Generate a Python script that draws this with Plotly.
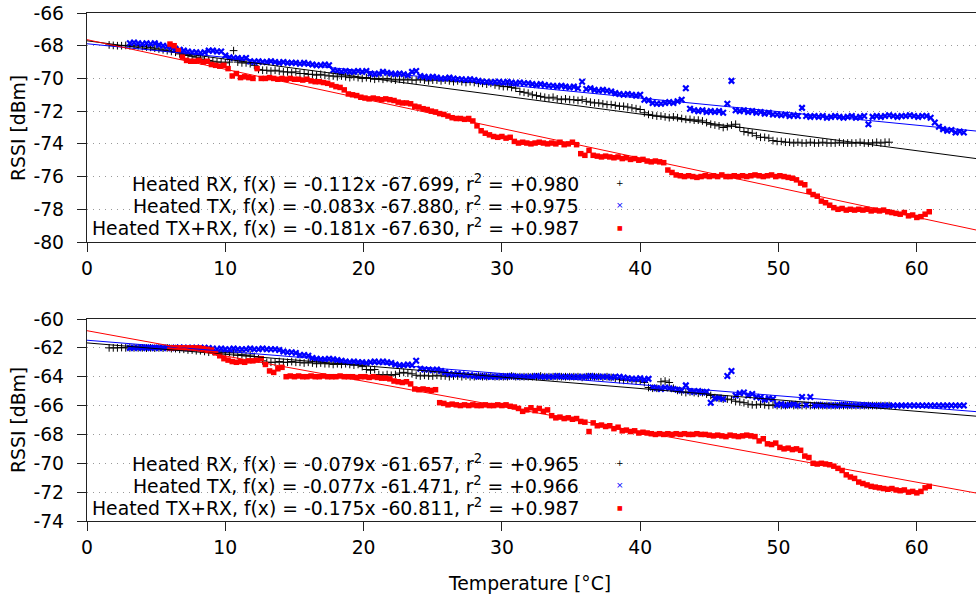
import numpy as np
import plotly.graph_objects as go

STEP = 0.3
# ---------------- top panel ----------------
top_rx_x0 = 1.6
top_rx = [
 -67.95,-67.98,-68.0,-68.0,-67.98,-68.0,-68.02,-68.0,-68.05,-68.08,
 -68.1,-68.15,-68.2,-68.25,-68.3,-68.35,-68.4,-68.5,-68.55,-68.6,
 -68.65,-68.7,-68.75,-68.85,-68.9,-68.95,-69.0,-69.0,-69.05,-69.0,
 -68.3,-69.0,-69.05,-69.05,-69.1,-69.2,-69.45,-69.5,-69.5,-69.55,
 -69.5,-69.55,-69.6,-69.6,-69.65,-69.6,-69.7,-69.7,-69.75,-69.75,
 -69.8,-69.75,-69.8,-69.85,-69.85,-69.9,-69.85,-69.9,-69.95,-69.9,
 -69.95,-70.0,-69.95,-70.0,-70.05,-70.0,-70.05,-70.0,-70.05,-70.1,
 -70.05,-70.1,-70.05,-70.1,-70.1,-70.05,-70.1,-70.15,-70.1,-70.1,
 -70.15,-70.1,-70.15,-70.2,-70.15,-70.2,-70.25,-70.2,-70.25,-70.3,
 -70.3,-70.35,-70.3,-70.4,-70.45,-70.5,-70.5,-70.55,-70.6,-70.8,
 -70.85,-70.9,-71.0,-71.05,-71.1,-71.15,-71.2,-71.15,-71.25,-71.3,
 -71.25,-71.3,-71.3,-71.35,-71.3,-71.4,-71.45,-71.5,-71.5,-71.55,
 -71.6,-71.6,-71.65,-71.7,-71.7,-71.75,-71.8,-71.85,-71.9,-72.1,
 -72.2,-72.25,-72.3,-72.3,-72.35,-72.4,-72.35,-72.4,-72.45,-72.5,
 -72.5,-72.55,-72.55,-72.6,-72.7,-72.8,-72.85,-72.9,-73.0,-72.95,
 -72.85,-72.8,-73.0,-73.25,-73.3,-73.35,-73.5,-73.6,-73.6,-73.65,
 -73.8,-73.85,-73.85,-73.9,-73.9,-73.95,-73.9,-73.95,-73.95,-73.9,
 -73.95,-73.95,-73.9,-73.95,-73.95,-73.95,-73.9,-73.95,-73.95,-73.95,
 -73.95,-73.9,-73.95,-73.95,-73.95,-73.9,-73.95,-73.9,-73.9,
]
top_tx_x0 = 3.1
top_tx = [
 -67.85,-67.8,-67.85,-67.9,-67.85,-67.9,-67.85,-67.95,-68.0,-68.05,
 -68.1,-68.2,-68.25,-68.3,-68.35,-68.4,-68.4,-68.45,-68.4,-68.3,
 -68.3,-68.35,-68.35,-68.6,-68.7,-68.75,-68.75,-68.8,-68.75,-68.95,
 -69.0,-68.95,-69.0,-69.0,-68.95,-69.0,-69.05,-69.0,-69.05,-69.05,
 -69.05,-69.1,-69.05,-69.1,-69.15,-69.2,-69.2,-69.15,-69.2,-69.5,
 -69.55,-69.6,-69.55,-69.6,-69.6,-69.55,-69.6,-69.55,-69.7,-69.75,
 -69.7,-69.6,-69.65,-69.7,-69.75,-69.7,-69.75,-69.8,-69.6,-69.55,
 -69.85,-69.9,-69.95,-69.9,-69.95,-70.0,-70.0,-69.95,-70.0,-70.05,
 -70.05,-70.1,-70.05,-70.1,-70.15,-70.2,-70.2,-70.25,-70.2,-70.2,
 -70.25,-70.2,-70.25,-70.3,-70.25,-70.3,-70.3,-70.35,-70.4,-70.35,
 -70.4,-70.45,-70.45,-70.5,-70.45,-70.5,-70.55,-70.5,-70.6,-70.2,
 -70.65,-70.6,-70.7,-70.75,-70.7,-70.75,-70.8,-70.9,-70.95,-71.0,
 -70.95,-71.0,-71.05,-71.0,-71.3,-71.35,-71.5,-71.55,-71.55,-71.5,
 -71.45,-71.5,-71.4,-71.3,-70.6,-71.85,-71.95,-72.0,-71.95,-72.05,
 -72.0,-72.05,-72.0,-72.1,-71.55,-70.15,-71.95,-72.0,-71.95,-72.05,
 -72.0,-72.1,-72.05,-72.15,-72.1,-72.2,-72.2,-72.25,-72.2,-72.3,
 -72.25,-72.3,-71.8,-72.3,-72.35,-72.3,-72.35,-72.3,-72.4,-72.35,
 -72.3,-72.35,-72.4,-72.35,-72.3,-72.4,-72.35,-72.3,-72.8,-72.35,
 -72.3,-72.35,-72.3,-72.25,-72.3,-72.35,-72.3,-72.3,-72.25,-72.3,
 -72.35,-72.3,-72.3,-72.4,-72.7,-72.95,-73.1,-73.2,-73.15,-73.3,
 -73.25,-73.3,
]
top_txrx_x0 = 6.0
top_txrx = [
 -67.9,-68.0,-68.3,-68.7,-68.9,-68.95,-68.95,-68.9,-69.0,-68.95,
 -69.15,-69.2,-69.25,-69.2,-69.4,-69.85,-69.7,-69.95,-69.9,-69.95,
 -70.0,-69.4,-70.0,-70.0,-69.95,-70.0,-70.05,-70.0,-70.05,-70.0,
 -70.05,-70.05,-70.1,-70.05,-70.15,-70.2,-70.2,-70.25,-70.3,-70.4,
 -70.5,-70.55,-70.7,-70.95,-71.0,-71.05,-71.15,-71.2,-71.25,-71.2,
 -71.25,-71.3,-71.25,-71.3,-71.35,-71.45,-71.5,-71.5,-71.55,-71.7,
 -71.75,-71.85,-71.9,-72.0,-72.05,-72.15,-72.2,-72.3,-72.4,-72.45,
 -72.45,-72.5,-72.45,-72.6,-72.9,-73.2,-73.35,-73.45,-73.55,-73.6,
 -73.55,-73.65,-73.6,-73.85,-73.95,-73.9,-73.95,-74.0,-73.95,-73.9,
 -73.95,-74.0,-73.95,-74.0,-73.9,-74.05,-74.0,-73.9,-74.05,-74.6,
 -74.7,-74.4,-74.7,-74.75,-74.8,-74.75,-74.8,-74.85,-74.8,-74.9,
 -74.85,-74.95,-74.9,-75.0,-74.95,-75.05,-75.1,-75.05,-75.1,-75.15,
 -75.6,-75.75,-75.9,-75.95,-76.0,-75.95,-76.0,-76.05,-76.0,-75.95,
 -76.0,-75.95,-76.0,-75.9,-76.0,-76.0,-75.95,-76.0,-75.95,-76.0,
 -75.95,-75.9,-75.95,-76.0,-75.95,-75.9,-76.0,-75.95,-76.0,-76.05,
 -76.1,-76.2,-76.4,-76.5,-76.9,-77.1,-77.2,-77.5,-77.6,-77.75,
 -77.9,-78.0,-77.95,-78.05,-78.0,-78.05,-78.0,-78.05,-78.0,-78.1,
 -78.05,-78.1,-78.05,-78.15,-78.2,-78.25,-78.3,-78.2,-78.4,-78.35,
 -78.5,-78.45,-78.3,-78.15,
]
# ---------------- bottom panel ----------------
bot_rx_x0 = 1.6
bot_rx = [
 -62.0,-62.0,-62.0,-61.98,-62.0,-62.0,-62.0,-62.0,-62.0,-62.02,
 -62.0,-62.02,-62.0,-62.02,-62.0,-62.05,-62.05,-62.1,-62.1,-62.15,
 -62.15,-62.2,-62.2,-62.25,-62.3,-62.25,-62.3,-62.3,-62.35,-62.3,
 -62.35,-62.5,-62.45,-62.55,-62.5,-62.6,-62.75,-62.9,-63.0,-63.0,
 -63.0,-62.95,-63.0,-63.0,-62.95,-63.0,-63.0,-63.05,-63.0,-63.05,
 -63.1,-63.05,-63.1,-63.1,-63.15,-63.1,-63.15,-63.1,-63.15,-63.2,
 -63.15,-63.3,-63.5,-63.55,-63.5,-63.85,-63.9,-63.85,-63.9,-63.85,
 -63.75,-63.7,-63.75,-63.8,-63.9,-63.95,-63.9,-63.95,-63.95,-63.9,
 -63.95,-63.95,-64.0,-63.95,-63.95,-64.0,-63.95,-64.0,-64.0,-63.95,
 -64.0,-64.0,-63.95,-64.0,-64.0,-64.0,-64.0,-63.95,-64.0,-64.0,
 -64.0,-64.0,-64.0,-64.0,-63.95,-64.0,-64.0,-64.0,-64.0,-64.0,
 -64.0,-64.0,-64.0,-64.0,-64.05,-64.0,-64.0,-64.0,-64.0,-64.05,
 -64.0,-64.05,-64.1,-64.2,-64.25,-64.2,-64.25,-64.3,-64.3,-64.4,
 -64.75,-64.8,-64.8,-64.35,-64.3,-64.4,-64.8,-64.95,-65.05,-65.1,
 -65.05,-65.1,-65.15,-65.1,-65.2,-65.3,-65.45,-65.5,-65.55,-65.55,
 -65.6,-65.7,-65.75,-65.8,-65.9,-65.95,-65.95,-65.9,-65.95,-66.0,
 -65.95,-66.0,-66.0,-66.0,-65.95,-66.0,-66.0,-66.0,-66.0,-66.0,
 -66.0,-66.0,-66.0,-66.0,-66.0,-66.0,-66.0,-66.0,-66.0,-66.0,
 -66.0,-66.0,-66.0,-66.0,-66.0,-66.0,-66.0,-66.0,-66.0,
]
bot_tx_x0 = 3.1
bot_tx = [
 -62.0,-62.0,-62.0,-62.0,-62.0,-62.0,-62.0,-62.0,-62.0,-62.0,
 -62.0,-62.0,-61.98,-62.0,-62.0,-62.0,-62.0,-62.0,-62.0,-62.02,
 -62.05,-62.1,-62.05,-62.1,-62.1,-62.05,-62.1,-62.1,-62.1,-62.05,
 -62.1,-62.1,-62.05,-62.1,-62.1,-62.1,-62.15,-62.25,-62.3,-62.3,
 -62.35,-62.5,-62.5,-62.55,-62.7,-62.75,-62.8,-62.8,-62.75,-62.8,
 -62.85,-62.9,-62.95,-63.0,-62.95,-63.0,-63.0,-63.05,-63.0,-62.95,
 -63.0,-62.95,-63.0,-63.05,-63.15,-63.2,-63.2,-63.15,-63.2,-62.9,
 -63.45,-63.5,-63.5,-63.55,-63.5,-63.6,-63.7,-63.8,-63.85,-63.8,
 -63.85,-63.9,-63.9,-63.95,-64.0,-63.95,-64.0,-64.0,-64.0,-64.0,
 -64.0,-64.0,-63.95,-64.0,-64.0,-64.0,-64.0,-64.0,-63.95,-64.0,
 -64.0,-64.0,-64.0,-63.95,-64.0,-64.0,-64.0,-64.0,-64.0,-64.0,
 -64.0,-63.95,-64.0,-64.0,-64.0,-64.0,-64.05,-64.0,-64.0,-64.05,
 -64.1,-64.15,-64.15,-64.1,-64.2,-64.15,-64.75,-64.8,-64.85,-64.75,
 -64.8,-64.85,-64.9,-64.95,-64.6,-65.0,-65.05,-65.0,-65.1,-65.05,
 -65.8,-65.5,-65.45,-65.55,-63.95,-63.6,-65.3,-65.15,-65.1,-65.3,
 -65.2,-65.4,-65.45,-65.6,-65.5,-65.55,-65.95,-65.9,-66.0,-65.95,
 -65.9,-66.0,-65.4,-65.95,-65.4,-66.0,-65.95,-66.0,-66.0,-66.0,
 -66.0,-66.0,-65.95,-66.0,-66.0,-66.0,-66.0,-66.0,-66.0,-66.0,
 -66.0,-66.0,-66.0,-66.0,-66.0,-66.0,-66.0,-66.0,-66.0,-66.0,
 -66.0,-66.0,-66.0,-66.0,-66.0,-66.0,-66.0,-66.0,-66.0,-66.0,
 -66.0,-66.0,
]
bot_txrx_x0 = 6.0
bot_txrx = [
 -62.0,-62.0,-62.0,-62.0,-62.0,-62.0,-62.0,-62.0,-62.05,-62.1,
 -62.15,-62.35,-62.55,-62.75,-62.85,-62.95,-63.0,-62.95,-63.0,-62.9,
 -62.9,-62.85,-62.75,-63.15,-63.6,-63.7,-63.45,-63.35,-64.0,-63.95,
 -64.0,-63.95,-64.0,-64.0,-63.95,-64.0,-64.0,-63.95,-64.0,-64.0,
 -64.0,-63.95,-64.0,-64.0,-64.0,-64.05,-64.0,-64.0,-64.05,-64.0,
 -64.05,-64.1,-64.1,-64.15,-64.3,-64.35,-64.4,-64.35,-64.5,-64.85,
 -64.9,-64.85,-64.9,-64.95,-64.9,-65.8,-65.85,-65.95,-65.9,-65.95,
 -66.0,-65.95,-66.0,-65.95,-66.0,-66.0,-65.95,-66.0,-66.0,-65.95,
 -66.0,-65.95,-66.05,-66.1,-66.2,-66.4,-66.3,-66.15,-66.35,-66.2,
 -66.4,-66.3,-66.7,-66.85,-66.8,-66.9,-66.85,-66.95,-66.9,-67.1,
 -67.15,-67.8,-67.2,-67.4,-67.35,-67.45,-67.4,-67.6,-67.5,-67.75,
 -67.7,-67.8,-67.75,-67.9,-67.85,-67.9,-67.95,-68.0,-67.95,-68.0,
 -67.95,-68.0,-67.95,-68.0,-67.95,-68.0,-68.0,-67.95,-68.0,-68.0,
 -68.05,-68.1,-68.05,-68.1,-68.15,-68.05,-68.1,-68.15,-68.1,-68.05,
 -68.1,-68.15,-68.45,-68.3,-68.65,-68.7,-68.6,-68.9,-69.0,-68.95,
 -69.05,-69.0,-69.1,-69.5,-69.6,-70.0,-70.05,-70.0,-70.05,-70.1,
 -70.2,-70.35,-70.5,-70.8,-70.95,-71.05,-71.3,-71.4,-71.5,-71.6,
 -71.65,-71.7,-71.75,-71.8,-71.75,-71.85,-71.9,-71.85,-72.0,-71.95,
 -72.05,-71.95,-71.7,-71.6,
]

# fit coefficients (slope, intercept, r^2) as printed in the key
series_names = ["Heated RX", "Heated TX", "Heated TX+RX"]
top_fit = [(-0.112, -67.699, 0.980), (-0.083, -67.880, 0.975), (-0.181, -67.630, 0.987)]
bot_fit = [(-0.079, -61.657, 0.965), (-0.077, -61.471, 0.966), (-0.175, -60.811, 0.987)]
x_ticks = [0, 10, 20, 30, 40, 50, 60]
top_yticks = [-80, -78, -76, -74, -72, -70, -68, -66]
bot_yticks = [-74, -72, -70, -68, -66, -64, -62, -60]

X_MAX = 64.28
colors = ["#000000", "#0000ff", "#ff0000"]
FONT = "DejaVu Sans"
FS = 18.8

def xs(x0, ys):
    return np.round(x0 + STEP * np.arange(len(ys)), 2)

fig = go.Figure()
marker_styles = [
    dict(symbol="cross-thin", size=5.5, line=dict(width=1, color=colors[0]), color=colors[0]),
    dict(symbol="x-thin", size=5.5, line=dict(width=2.2, color=colors[1]), color=colors[1]),
    dict(symbol="square", size=5.5, color=colors[2], line=dict(width=0)),
]
panels = [
    ("x", "y", [(top_rx_x0, top_rx), (top_tx_x0, top_tx), (top_txrx_x0, top_txrx)], top_fit),
    ("x2", "y2", [(bot_rx_x0, bot_rx), (bot_tx_x0, bot_tx), (bot_txrx_x0, bot_txrx)], bot_fit),
]
for xa, ya, data, fits in panels:
    for i, (x0, ys) in enumerate(data):
        fig.add_trace(go.Scatter(x=xs(x0, ys), y=ys, mode="markers", marker=marker_styles[i],
                                 xaxis=xa, yaxis=ya, showlegend=False, hoverinfo="skip"))
    for i, (m, b, r2) in enumerate(fits):
        lx = np.array([0.0, X_MAX])
        fig.add_trace(go.Scatter(x=lx, y=m * lx + b, mode="lines", line=dict(color=colors[i], width=1),
                                 xaxis=xa, yaxis=ya, showlegend=False, hoverinfo="skip"))

# page geometry (px)
W, H = 976, 599
L, T, B = 87, 13, 78
PH = H - T - B
def py2paper(py):
    return (H - B - py) / PH
def px2paper(px):
    return (px - L) / (W - L)

top_dom = [py2paper(242), 1.0]
bot_dom = [0.0, py2paper(319)]

axis_common = dict(showline=True, linecolor="#222222", linewidth=1.3, mirror=True,
                   ticks="outside", ticklen=9, tickcolor="#222222", tickwidth=1,
                   tickfont=dict(family=FONT, size=FS, color="black"), zeroline=False)
def labels(vals):
    return [str(v) for v in vals]
fig.update_layout(
    width=W, height=H, margin=dict(l=L, r=0, t=T, b=B),
    paper_bgcolor="white", plot_bgcolor="white",
    font=dict(family=FONT, size=FS, color="black"),
    xaxis=dict(axis_common, domain=[0, 1], range=[0, X_MAX], tickvals=x_ticks, ticktext=labels(x_ticks),
               anchor="y", showgrid=False),
    xaxis2=dict(axis_common, domain=[0, 1], range=[0, X_MAX], tickvals=x_ticks, ticktext=labels(x_ticks),
                anchor="y2", showgrid=False),
    yaxis=dict(axis_common, domain=top_dom, range=[-80, -66], tickvals=top_yticks, ticktext=labels(top_yticks),
               anchor="x", ticklabelstandoff=9,
               showgrid=True, gridcolor="#999999", gridwidth=1, griddash="1px,5px"),
    yaxis2=dict(axis_common, domain=bot_dom, range=[-74, -60], tickvals=bot_yticks, ticktext=labels(bot_yticks),
                anchor="x2", ticklabelstandoff=9,
                showgrid=True, gridcolor="#999999", gridwidth=1, griddash="1px,5px"),
    showlegend=False,
)

shapes = []
annotations = []
# opaque key boxes
for (y0, y1) in [(168, 242), (450, 521)]:
    shapes.append(dict(type="rect", xref="paper", yref="paper", x0=0, x1=px2paper(655),
                       y0=py2paper(y1), y1=py2paper(y0), fillcolor="white", line=dict(width=0),
                       layer="between"))
key_glyphs = [("+", 9), ("\u00d7", 9), ("\u25a0", 6)]
for fits, rows in [(top_fit, [183, 205, 227]), (bot_fit, [463, 485, 507])]:
    for i, ((m, b, r2), py) in enumerate(zip(fits, rows)):
        txt = f"{series_names[i]}, f(x) = {m:.3f}x {b:.3f}, r<sup>2</sup> = +{r2:.3f}"
        annotations.append(dict(text=txt, xref="paper", yref="paper", x=px2paper(581), y=py2paper(py),
                                xanchor="right", yanchor="middle", showarrow=False,
                                font=dict(family=FONT, size=FS, color="black")))
        g, s = key_glyphs[i]
        annotations.append(dict(text=g, xref="paper", yref="paper", x=px2paper(620), y=py2paper(py),
                                xanchor="center", yanchor="middle", showarrow=False,
                                font=dict(family=FONT, size=s, color=colors[i])))
# axis titles
for yc in [128, 420]:
    annotations.append(dict(text="RSSI [dBm]", xref="paper", yref="paper", x=px2paper(18), y=py2paper(yc),
                            textangle=-90, xanchor="center", yanchor="middle", showarrow=False,
                            font=dict(family=FONT, size=FS, color="black")))
annotations.append(dict(text="Temperature [\u00b0C]", xref="paper", yref="paper", x=px2paper(529), y=py2paper(583),
                        xanchor="center", yanchor="middle", showarrow=False,
                        font=dict(family=FONT, size=FS, color="black")))
fig.update_layout(shapes=shapes, annotations=annotations)
fig.write_html("out.html")
